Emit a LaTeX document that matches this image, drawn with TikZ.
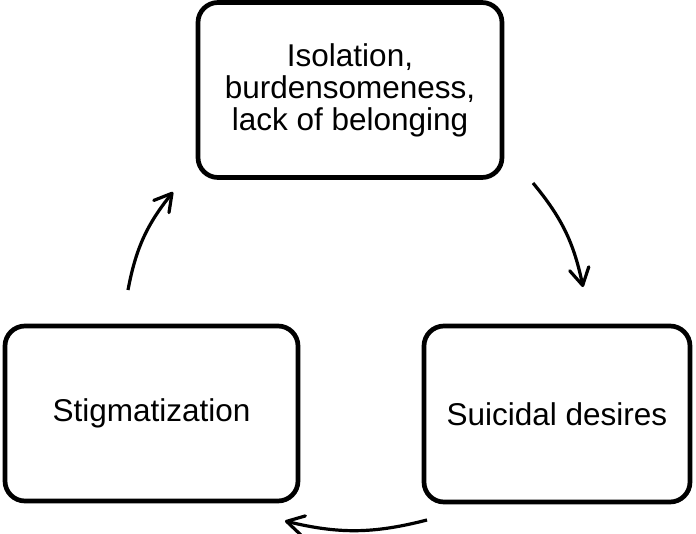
\documentclass[tikz,border=0pt]{standalone}
\usepackage{fontspec}
\setmainfont{Liberation Sans}
\usetikzlibrary{arrows.meta}
\begin{document}
\begin{tikzpicture}[x=1pt,y=-1pt,
  box/.style={draw, line width=4.7pt, rounded corners=20pt, inner sep=0pt,
    font=\fontsize{31.5}{32}\selectfont, align=center},
  cyc/.style={line width=3.2pt, -{Straight Barb[length=17pt,width=19.5pt,round]}, bend left=14}]
\useasboundingbox (0,0) rectangle (696,533);
\node[box, minimum width=304pt, minimum height=175pt] (top) at (350,90)
  {Isolation,\\burdensomeness,\\lack of belonging};
\node[box, minimum width=293pt, minimum height=175pt] (left) at (151.5,413.5) {Stigmatization};
\node[box, minimum width=266pt, minimum height=176pt] (right) at (557,414) {Suicidal desires};
\coordinate (a1s) at (533,183);
\coordinate (a1e) at (583,287);
\coordinate (a2s) at (427,520);
\coordinate (a2e) at (285,521);
\coordinate (a3s) at (128,290);
\coordinate (a3e) at (173,192);
\draw[cyc] (a1s) to (a1e);
\draw[cyc] (a2s) to (a2e);
\draw[cyc] (a3s) to (a3e);
\end{tikzpicture}
\end{document}
